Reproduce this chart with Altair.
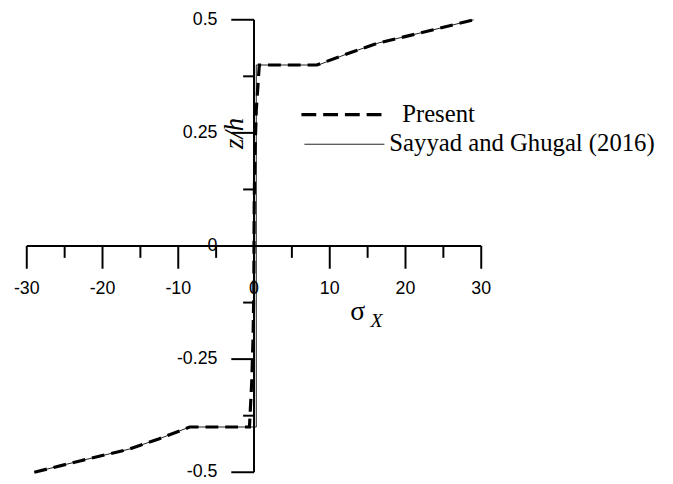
import altair as alt
import pandas as pd

# ---- data ----
present_x = [-29, -23, -16.5, -12.5, -8.5, -0.7, -0.6, -0.3, -0.12, -0.03, 0.0, 0.03, 0.12, 0.3, 0.7, 8.3, 12.5, 16.5, 23, 29]
present_y = [-0.5, -0.475, -0.449, -0.426, -0.4, -0.4, -0.4, -0.3, -0.2, -0.1, 0.0, 0.1, 0.2, 0.3, 0.4, 0.4, 0.426, 0.449, 0.475, 0.5]

sayyad_x = [-29, -23, -16.5, -12.5, -8.5, 0.3, 0.3, 8.5, 12.5, 16.5, 23, 29]
sayyad_y = [-0.5, -0.475, -0.449, -0.426, -0.4, -0.4, 0.4, 0.4, 0.426, 0.449, 0.475, 0.5]

x_major = [-30, -20, -10, 0, 10, 20, 30]
x_minor = [-25, -15, -5, 5, 15, 25]
x_labels = ["-30", "-20", "-10", "0", "10", "20", "30"]
y_major = [-0.5, -0.25, 0, 0.25, 0.5]
y_minor = [-0.375, -0.125, 0.125, 0.375]
y_labels = ["-0.5", "-0.25", "0", "0.25", "0.5"]

series_names = ["Present", "Sayyad and Ghugal (2016)"]

W, H = 460, 458


def px2x(p):
    return p / W * 60 - 30


def px2y(p):
    return 0.5 - p / H


# ---- tables ----
present_df = pd.DataFrame({"x": present_x, "y": present_y, "o": range(len(present_x))})
sayyad_df = pd.DataFrame({"x": sayyad_x, "y": sayyad_y, "o": range(len(sayyad_x))})
xmaj_df = pd.DataFrame({"x": x_major, "lab": x_labels, "z": 0.0})
xmin_df = pd.DataFrame({"x": x_minor, "z": 0.0})
ymaj_df = pd.DataFrame({"y": y_major, "lab": y_labels, "z": 0.0})
ymin_df = pd.DataFrame({"y": y_minor, "z": 0.0})

xs = alt.Scale(domain=[-30, 30], nice=False, zero=False)
ys = alt.Scale(domain=[-0.5, 0.5], nice=False, zero=False)


def X(f):
    return alt.X(f, type="quantitative", scale=xs, axis=None)


def Y(f):
    return alt.Y(f, type="quantitative", scale=ys, axis=None)


# axes lines
x_axis = alt.Chart(pd.DataFrame({"a": [-30.0], "b": [30.0], "c": [0.0]})).mark_rule(
    color="black", strokeWidth=2
).encode(x=X("a"), x2="b", y=Y("c"))
y_axis = alt.Chart(pd.DataFrame({"a": [-0.5], "b": [0.5], "c": [0.0]})).mark_rule(
    color="black", strokeWidth=2
).encode(y=Y("a"), y2="b", x=X("c"))

x_major_ticks = alt.Chart(xmaj_df).mark_rule(color="black", strokeWidth=2, y2Offset=23).encode(
    x=X("x"), y=Y("z"), y2="z"
)
x_minor_ticks = alt.Chart(xmin_df).mark_rule(color="black", strokeWidth=2, y2Offset=12).encode(
    x=X("x"), y=Y("z"), y2="z"
)
y_major_ticks = alt.Chart(ymaj_df).mark_rule(color="black", strokeWidth=2, x2Offset=-23).encode(
    y=Y("y"), x=X("z"), x2="z"
)
y_minor_ticks = alt.Chart(ymin_df).mark_rule(color="black", strokeWidth=2, x2Offset=-11).encode(
    y=Y("y"), x=X("z"), x2="z"
)

x_tick_labels = alt.Chart(xmaj_df).mark_text(
    font="Liberation Sans", fontSize=18, baseline="middle", align="center", dy=44, color="black"
).encode(x=X("x"), y=Y("z"), text="lab:N")
y_tick_labels = alt.Chart(ymaj_df).mark_text(
    font="Liberation Sans", fontSize=18, baseline="middle", align="right", dx=-37, color="black"
).encode(y=Y("y"), x=X("z"), text="lab:N")

# data lines
sayyad_line = alt.Chart(sayyad_df).mark_line(color="#222222", strokeWidth=1).encode(
    x=X("x"), y=Y("y"), order="o:Q"
)
present_line = alt.Chart(present_df).mark_line(
    color="black", strokeWidth=3.2, strokeDash=[13, 7]
).encode(x=X("x"), y=Y("y"), order="o:Q")

# axis titles
sigma = alt.Chart(pd.DataFrame({"t": ["σ"], "x": [px2x(335)], "y": [px2y(296)]})).mark_text(
    font="Liberation Serif", fontSize=28, baseline="middle", align="center", color="black"
).encode(x=X("x"), y=Y("y"), text="t:N")
sub_x = alt.Chart(pd.DataFrame({"t": ["X"], "x": [px2x(354)], "y": [px2y(305)]})).mark_text(
    font="Liberation Serif", fontSize=20, fontStyle="italic", baseline="middle", align="center", color="black"
).encode(x=X("x"), y=Y("y"), text="t:N")
zh = alt.Chart(pd.DataFrame({"t": ["z/h"], "x": [px2x(211)], "y": [px2y(115)]})).mark_text(
    font="Liberation Serif", fontSize=27, fontStyle="italic", baseline="middle", align="center",
    angle=270, color="black"
).encode(x=X("x"), y=Y("y"), text="t:N")

# legend
leg_dash = alt.Chart(pd.DataFrame({"a": [px2x(278)], "b": [px2x(364)], "c": [px2y(96)]})).mark_rule(
    color="black", strokeWidth=3.2, strokeDash=[15, 7]
).encode(x=X("a"), x2="b", y=Y("c"))
leg_solid = alt.Chart(pd.DataFrame({"a": [px2x(281)], "b": [px2x(362)], "c": [px2y(126)]})).mark_rule(
    color="#222222", strokeWidth=1
).encode(x=X("a"), x2="b", y=Y("c"))
leg_t1 = alt.Chart(pd.DataFrame({"n": [series_names[0]], "x": [px2x(380)], "y": [px2y(95)]})).mark_text(
    font="Liberation Serif", fontSize=25, baseline="middle", align="left", color="black"
).encode(x=X("x"), y=Y("y"), text="n:N")
leg_t2 = alt.Chart(pd.DataFrame({"n": [series_names[1]], "x": [px2x(367)], "y": [px2y(125)]})).mark_text(
    font="Liberation Serif", fontSize=25, baseline="middle", align="left", color="black"
).encode(x=X("x"), y=Y("y"), text="n:N")

chart = alt.layer(
    sayyad_line, present_line,
    x_axis, y_axis, x_major_ticks, x_minor_ticks, y_major_ticks, y_minor_ticks,
    x_tick_labels, y_tick_labels, sigma, sub_x, zh,
    leg_dash, leg_solid, leg_t1, leg_t2,
).properties(
    width=W, height=H,
    padding={"left": 19, "top": 9, "right": 186, "bottom": 10},
    autosize=alt.AutoSizeParams(type="none"),
    background="white",
).configure_view(stroke=None)

chart.save("out.html", embed_options={"renderer": "svg", "actions": False})
